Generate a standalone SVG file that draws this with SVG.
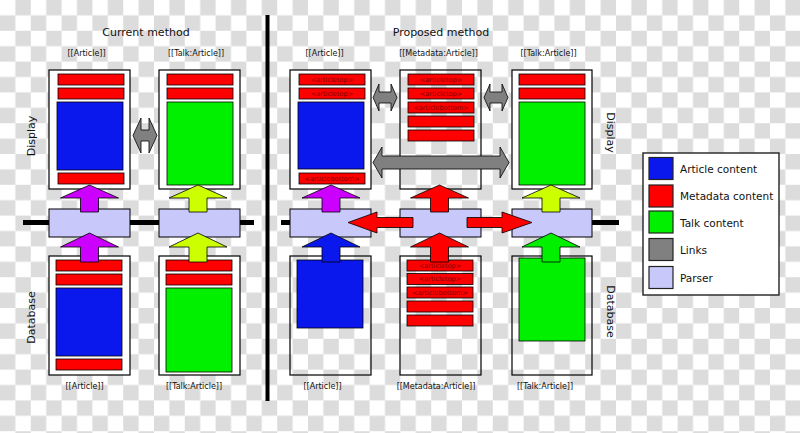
<svg xmlns="http://www.w3.org/2000/svg" width="800" height="433" viewBox="0 0 800 433">
<defs>
<pattern id="checker" x="0" y="0" width="30.8" height="30.8" patternUnits="userSpaceOnUse">
<rect width="30.8" height="30.8" fill="#ffffff"/>
<rect x="15.4" y="0" width="15.4" height="15.4" fill="#dcdcdc"/>
<rect x="0" y="15.4" width="15.4" height="15.4" fill="#dcdcdc"/>
</pattern>
<style>
text{font-family:"DejaVu Sans","Liberation Sans",sans-serif;fill:#111}
.title{font-size:11px;text-anchor:middle}
.lbl{font-size:8px;text-anchor:middle}
.side{font-size:11px;text-anchor:middle}
.leg{font-size:10.5px}
.tag{font-size:6.6px;text-anchor:middle;fill:#7a0000}
.box{fill:#ffffff;stroke:#000;stroke-width:1.2}
.boxc{fill:none;stroke:#000;stroke-width:1.2}
.red{fill:#ff0000;stroke:#000;stroke-width:0.8}
.blue{fill:#0a18ee;stroke:#000;stroke-width:0.8}
.green{fill:#00f000;stroke:#000;stroke-width:0.8}
.parser{fill:#c8c8fa;stroke:#000;stroke-width:1}
.bus{stroke:#000;stroke-width:5;fill:none}
.ar{stroke:#000;stroke-width:0.8}
.purple{fill:#cc00ff}
.yel{fill:#ccff00}
.grey{fill:#808080;stroke:#000;stroke-width:0.8}
</style>
</defs>
<rect width="800" height="433" fill="url(#checker)"/>

<text class="title" x="146" y="36">Current method</text>
<text class="title" x="441" y="36">Proposed method</text>
<line x1="267.5" y1="15" x2="267.5" y2="401" stroke="#000" stroke-width="4"/>

<text class="lbl" x="86.5" y="56">[[Article]]</text>
<text class="lbl" x="196" y="56">[[Talk:Article]]</text>
<text class="lbl" x="324.5" y="56">[[Article]]</text>
<text class="lbl" x="438.5" y="56">[[Metadata:Article]]</text>
<text class="lbl" x="548.5" y="56">[[Talk:Article]]</text>
<text class="lbl" x="84.5" y="389">[[Article]]</text>
<text class="lbl" x="194" y="389">[[Talk:Article]]</text>
<text class="lbl" x="322.5" y="389">[[Article]]</text>
<text class="lbl" x="436" y="389">[[Metadata:Article]]</text>
<text class="lbl" x="545" y="389">[[Talk:Article]]</text>

<text class="side" transform="translate(35,136) rotate(-90)">Display</text>
<text class="side" transform="translate(35,317.5) rotate(-90)">Database</text>
<text class="side" transform="translate(607,132.5) rotate(90)">Display</text>
<text class="side" transform="translate(607,311.5) rotate(90)">Database</text>

<g id="bus">
<line class="bus" x1="23" y1="222.5" x2="254" y2="222.5"/>
<line class="bus" x1="281" y1="222.5" x2="619" y2="222.5"/>
</g>

<g id="cur-display-article">
<rect class="box" x="49" y="70" width="81" height="119"/>
<rect class="red" x="58" y="74" width="66" height="11"/>
<rect class="red" x="58" y="88" width="66" height="11"/>
<rect class="blue" x="57" y="102" width="66" height="68"/>
<rect class="red" x="58" y="173" width="66" height="11"/>
</g>
<g id="cur-display-talk">
<rect class="box" x="159" y="70" width="81" height="119"/>
<rect class="red" x="167" y="74" width="66" height="11"/>
<rect class="red" x="167" y="88" width="66" height="11"/>
<rect class="green" x="167" y="102" width="66" height="83"/>
</g>
<g id="cur-db-article">
<rect class="box" x="49" y="256" width="81" height="119"/>
<rect class="red" x="56" y="260" width="66" height="11"/>
<rect class="red" x="56" y="274" width="66" height="11"/>
<rect class="blue" x="56" y="288" width="66" height="68"/>
<rect class="red" x="56" y="359" width="66" height="11"/>
</g>
<g id="cur-db-talk">
<rect class="box" x="159" y="256" width="81" height="119"/>
<rect class="red" x="166" y="260" width="66" height="11"/>
<rect class="red" x="166" y="274" width="66" height="11"/>
<rect class="green" x="166" y="288" width="66" height="84"/>
</g>
<g id="cur-parser-article"><rect class="parser" x="49" y="209" width="81" height="28"/></g>
<g id="cur-parser-talk"><rect class="parser" x="159" y="209" width="81" height="28"/></g>

<g id="prop-display-article">
<rect class="box" x="290" y="70" width="81" height="119"/>
<rect class="red" x="299" y="74" width="66" height="11"/>
<text class="tag" x="332" y="81.8">&lt;articletop&gt;</text>
<rect class="red" x="299" y="88" width="66" height="11"/>
<text class="tag" x="332" y="95.8">&lt;articletop&gt;</text>
<rect class="blue" x="298" y="102" width="66" height="67"/>
<rect class="red" x="299" y="173" width="66" height="11"/>
<text class="tag" x="332" y="180.8">&lt;articlebottom&gt;</text>
</g>
<g id="prop-display-metadata">
<rect class="boxc" x="400" y="70" width="81" height="119"/>
<rect class="red" x="408" y="74" width="66" height="11"/>
<text class="tag" x="441" y="81.8">&lt;articletop&gt;</text>
<rect class="red" x="408" y="88" width="66" height="11"/>
<text class="tag" x="441" y="95.8">&lt;articletop&gt;</text>
<rect class="red" x="408" y="102" width="66" height="11"/>
<text class="tag" x="441" y="109.8">&lt;articlebottom&gt;</text>
<rect class="red" x="408" y="116" width="66" height="11"/>
<rect class="red" x="408" y="130" width="66" height="11"/>
</g>
<g id="prop-display-talk">
<rect class="box" x="512" y="70" width="80" height="119"/>
<rect class="red" x="519" y="74" width="66" height="11"/>
<rect class="red" x="519" y="88" width="66" height="11"/>
<rect class="green" x="519" y="102" width="66" height="83"/>
</g>
<g id="prop-db-article">
<rect class="boxc" x="290" y="256" width="81" height="119"/>
<rect class="blue" x="297" y="260" width="66" height="68"/>
</g>
<g id="prop-db-metadata">
<rect class="boxc" x="400" y="256" width="81" height="119"/>
<rect class="red" x="407" y="260" width="66" height="11"/>
<text class="tag" x="440" y="267.8">&lt;articletop&gt;</text>
<rect class="red" x="407" y="273.5" width="66" height="11"/>
<text class="tag" x="440" y="281.3">&lt;articletop&gt;</text>
<rect class="red" x="407" y="287" width="66" height="11"/>
<text class="tag" x="440" y="294.8">&lt;articlebottom&gt;</text>
<rect class="red" x="407" y="301" width="66" height="11"/>
<rect class="red" x="407" y="315" width="66" height="11"/>
</g>
<g id="prop-db-talk">
<rect class="boxc" x="512" y="256" width="80" height="119"/>
<rect class="green" x="519" y="258" width="66" height="83"/>
</g>
<g id="prop-parser-article"><rect class="parser" x="290" y="209" width="81" height="28"/></g>
<g id="prop-parser-metadata"><rect class="parser" x="400" y="209" width="81" height="28"/></g>
<g id="prop-parser-talk"><rect class="parser" x="512" y="209" width="80" height="28"/></g>

<g id="connectors">
<!-- current method up arrows -->
<polygon class="ar purple" points="89.5,185 118.5,198 98.5,198 98.5,212 80.5,212 80.5,198 60.5,198"/>
<polygon class="ar purple" points="89.5,233 118.5,247 98.5,247 98.5,262 80.5,262 80.5,247 60.5,247"/>
<polygon class="ar yel" points="198,185 227,198 207,198 207,212 189,212 189,198 169,198"/>
<polygon class="ar yel" points="198,233 227,247 207,247 207,262 189,262 189,247 169,247"/>
<polygon class="grey" points="133,135.5 141,118 141,130 149,130 149,118 157,135.5 149,153 149,141 141,141 141,153"/>
<!-- proposed method up arrows -->
<polygon class="ar purple" points="331,185 360,198 340,198 340,212 322,212 322,198 302,198"/>
<polygon class="ar" fill="#0a18ee" points="331,233 360,247 340,247 340,262 322,262 322,247 302,247"/>
<polygon class="ar" fill="#ff0000" points="439.5,185 468.5,198 448.5,198 448.5,212 430.5,212 430.5,198 410.5,198"/>
<polygon class="ar" fill="#ff0000" points="439.5,233 468.5,247 448.5,247 448.5,262 430.5,262 430.5,247 410.5,247"/>
<polygon class="ar yel" points="551,185 580,198 560,198 560,212 542,212 542,198 522,198"/>
<polygon class="ar" fill="#00f000" points="551,233 580,247 560,247 560,262 542,262 542,247 522,247"/>
<!-- red side arrows -->
<polygon class="ar" fill="#ff0000" points="348,222.5 377,212 377,217.5 413,217.5 413,227.5 377,227.5 377,233"/>
<polygon class="ar" fill="#ff0000" points="467,217.5 502,217.5 502,212 532,222.5 502,233 502,227.5 467,227.5"/>
<!-- grey link arrows -->
<polygon class="grey" points="373,97.5 379,84 379,92 391,92 391,84 397,97.5 391,111 391,103 379,103 379,111"/>
<polygon class="grey" points="484,97.5 490,84 490,92 502,92 502,84 508,97.5 502,111 502,103 490,103 490,111"/>
<polygon class="grey" points="373,162.5 382,147 382,156 500,156 500,147 509,162.5 500,178 500,169 382,169 382,178"/>
</g>

<g id="legend">
<rect x="643" y="153" width="136" height="142" fill="#ffffff" stroke="#222" stroke-width="1.4"/>
<rect x="649" y="157.5" width="24" height="22" fill="#0a18ee" stroke="#222" stroke-width="1.2"/>
<text class="leg" x="680" y="173">Article content</text>
<rect x="649" y="185" width="24" height="22" fill="#ff0000" stroke="#222" stroke-width="1.2"/>
<text class="leg" x="680" y="200">Metadata content</text>
<rect x="649" y="211" width="24" height="22" fill="#00f000" stroke="#222" stroke-width="1.2"/>
<text class="leg" x="680" y="226.5">Talk content</text>
<rect x="649" y="238.5" width="24" height="22" fill="#808080" stroke="#222" stroke-width="1.2"/>
<text class="leg" x="680" y="254">Links</text>
<rect x="649" y="266.5" width="24" height="22" fill="#c8c8fa" stroke="#222" stroke-width="1.2"/>
<text class="leg" x="680" y="282">Parser</text>
</g>
</svg>
